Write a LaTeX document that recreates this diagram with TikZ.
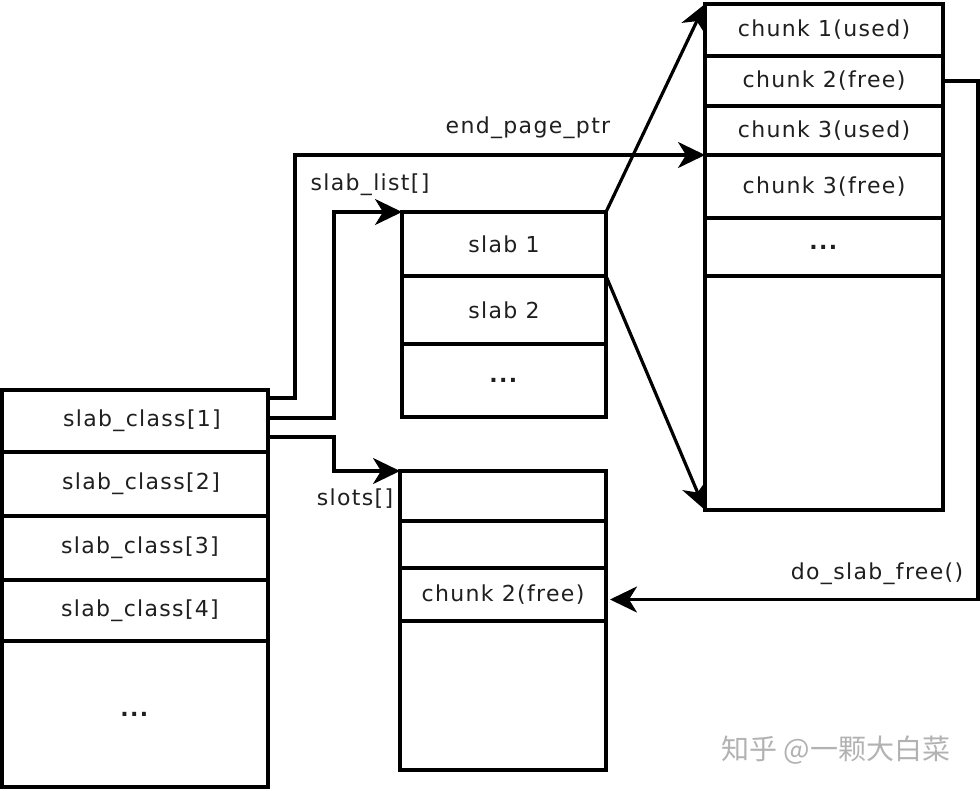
\documentclass[tikz,border=0pt]{standalone}
\usepackage{fontspec}
\setmainfont[LetterSpace=6]{DejaVu Sans}
\newfontfamily\cjk{Noto Sans CJK SC}
\usetikzlibrary{arrows.meta, positioning}
\tikzstyle{cell} = [draw, fill=white, rectangle, line width=3.2pt, outer sep=0pt, inner sep=0pt]
\tikzstyle{lbl} = [inner sep=1pt]
\newcommand{\more}{\textbf{...}}

\begin{document}
\begin{tikzpicture}[x=1pt, y=-1pt, node distance=0pt, line width=3.2pt, text=black!88,
    font=\fontsize{22}{26}\selectfont, >={Stealth[length=27pt,width=26pt,inset=8pt]}]
    \useasboundingbox (0,0) rectangle (980,790);
    % slab_class array
    \node [cell, minimum width=266, minimum height=62, anchor=north west] (cls1) at (2,390) {\hspace*{14pt}slab\_class[1]};
    \node [cell, minimum width=266, minimum height=64, below=of cls1] (cls2) {\hspace*{12pt}slab\_class[2]};
    \node [cell, minimum width=266, minimum height=64, below=of cls2] (cls3) {\hspace*{10pt}slab\_class[3]};
    \node [cell, minimum width=266, minimum height=61, below=of cls3] (cls4) {\hspace*{10pt}slab\_class[4]};
    \node [cell, minimum width=266, minimum height=146, below=of cls4] (clsmore) {\more};
    % slab list
    \node [cell, minimum width=204, minimum height=64, anchor=north west] (slab1) at (402,212) {slab 1};
    \node [cell, minimum width=204, minimum height=68, below=of slab1] (slab2) {slab 2};
    \node [cell, minimum width=204, minimum height=73, below=of slab2] (slabmore) {\more};
    % slots
    \node [cell, minimum width=206, minimum height=50, anchor=north west] (slot1) at (400,471) {};
    \node [cell, minimum width=206, minimum height=47, below=of slot1] (slot2) {};
    \node [cell, minimum width=206, minimum height=53, below=of slot2] (slot3) {chunk 2(free)};
    \node [cell, minimum width=206, minimum height=149, below=of slot3] (slotrest) {};
    % chunks of a slab
    \node [cell, minimum width=238, minimum height=52, anchor=north west] (chk1) at (705,4) {chunk 1(used)};
    \node [cell, minimum width=238, minimum height=50, below=of chk1] (chk2) {chunk 2(free)};
    \node [cell, minimum width=238, minimum height=49, below=of chk2] (chk3u) {chunk 3(used)};
    \node [cell, minimum width=238, minimum height=63, below=of chk3u] (chk3f) {chunk 3(free)};
    \node [cell, minimum width=238, minimum height=58, below=of chk3f] (chkmore) {\more};
    \node [cell, minimum width=238, minimum height=234, below=of chkmore] (chkrest) {};
    % pointers
    \draw [->] ([yshift=-8pt]cls1.north east) -- ++(27,0) |- (chk3f.north west);
    \draw [->] ([yshift=-28pt]cls1.north east) -- ++(66,0) |- (slab1.north west);
    \draw [->] ([yshift=-47pt]cls1.north east) -- ++(66,0) |- (slot1.north west);
    \draw [->] (slab1.north east) -- (chk1.north west);
    \draw [->] (slab2.north east) -- (chkrest.south west);
    \draw [->] ([xshift=2pt]chk2.east) -- ++(33,0) |- ([xshift=4pt,yshift=-5pt]slot3.east);
    % labels
    \node [lbl] (ptrlbl) at (528,128) {end\_page\_ptr};
    \node [lbl] (listlbl) at (370,185) {slab\_list[]};
    \node [lbl] (slotlbl) at (355,499) {slots[]};
    \node [lbl] (freelbl) at (877,574) {do\_slab\_free()};
    \node [lbl, text=black!30, font=\cjk\fontsize{28}{32}\selectfont] (mark) at (836,750) {知乎 @一颗大白菜};
\end{tikzpicture}
\end{document}
